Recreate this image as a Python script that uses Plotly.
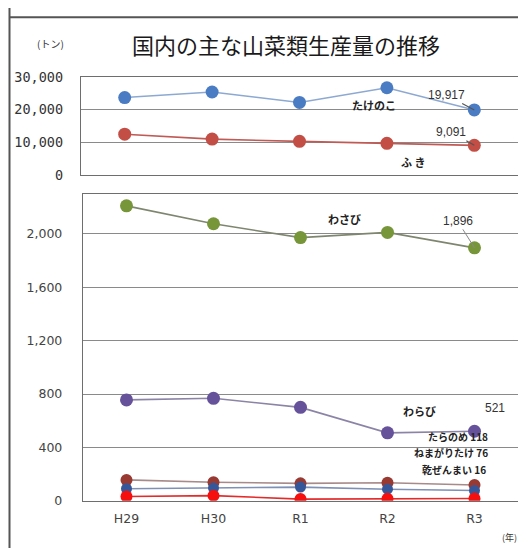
import plotly.graph_objects as go

# Production of major wild vegetables in Japan (tonnes)
years = ["H29", "H30", "R1", "R2", "R3"]
takenoko = [23700, 25400, 22200, 26700, 19917]
fuki = [12500, 11000, 10300, 9700, 9091]
wasabi = [2211, 2077, 1973, 2012, 1896]
warabi = [756, 768, 700, 509, 521]
taranome = [156, 138, 130, 135, 118]
nemagaritake = [90, 95, 102, 86, 76]
zenmai = [32, 38, 12, 14, 16]

top_ticks = [0, 10000, 20000, 30000]
top_tick_text = ["0", "10,000", "20,000", "30,000"]
bottom_ticks = [0, 400, 800, 1200, 1600, 2000]
bottom_tick_text = ["0", "400", "800", "1,200", "1,600", "2,000"]

W, H = 518, 556
JP = "Noto Sans CJK JP"


def px(x):
    return x / W


def py(y):
    return 1 - y / H


fig = go.Figure()


def add_series(xaxis, yaxis, values, marker_color, line_color, size=13):
    fig.add_trace(go.Scatter(
        x=years, y=values, xaxis=xaxis, yaxis=yaxis, mode="lines+markers",
        line=dict(color=line_color, width=1.6),
        marker=dict(color=marker_color, size=size),
        hoverinfo="x+y", showlegend=False,
    ))


# upper panel
add_series("x", "y", takenoko, "#4A7CC4", "#8DA9D2")
add_series("x", "y", fuki, "#C24E45", "#C05A55")
# lower panel
add_series("x2", "y2", wasabi, "#77963A", "#7E8670")
add_series("x2", "y2", warabi, "#65529A", "#8C84A6")
add_series("x2", "y2", taranome, "#983A32", "#A88A8A", 12)
add_series("x2", "y2", nemagaritake, "#35579A", "#7E90B6", 11)
add_series("x2", "y2", zenmai, "#F50F0F", "#E52A2A", 12)

axis_line = dict(showline=True, linecolor="#6e6e6e", linewidth=1.4)
tick_font = dict(family="DejaVu Sans", size=12.5, color="#444")

fig.update_layout(
    width=W, height=H,
    margin=dict(l=0, r=0, t=0, b=0),
    paper_bgcolor="white", plot_bgcolor="white",
    font=dict(family=JP, color="#333"),
    xaxis=dict(domain=[px(81), 1], range=[-0.5, 4.5], type="category",
               showticklabels=False, ticks="", showgrid=False,
               mirror=True, anchor="y", **axis_line),
    yaxis=dict(domain=[py(172), py(71)], range=[0, 30000],
               tickvals=top_ticks, ticktext=top_tick_text,
               tickfont=dict(family="DejaVu Sans Mono", size=13.5, color="#333"),
               ticklabelstandoff=14,
               showgrid=True, gridcolor="#8a8a8a", gridwidth=1,
               zeroline=False, anchor="x", **axis_line),
    xaxis2=dict(domain=[px(83), 1], range=[-0.5, 4.5], type="category",
                tickfont=tick_font,
                ticks="", showgrid=False, mirror=True, anchor="y2",
                ticklabelstandoff=6, **axis_line),
    yaxis2=dict(domain=[py(507.3), py(191.5)], range=[0, 2300],
                tickvals=bottom_ticks, ticktext=bottom_tick_text,
                tickfont=tick_font,
                ticklabelstandoff=17,
                showgrid=True, gridcolor="#8a8a8a", gridwidth=1,
                zeroline=False, anchor="x2", **axis_line),
)

# outer frame
fig.add_shape(type="line", xref="paper", yref="paper",
              x0=px(9.5), x1=px(9.5), y0=0, y1=1,
              line=dict(color="#555", width=2))
fig.add_shape(type="line", xref="paper", yref="paper",
              x0=px(9.5), x1=1, y0=py(9.5), y1=py(9.5),
              line=dict(color="#555", width=2))

ann = []
centered = dict(xref="paper", yref="paper", xanchor="center", yanchor="middle",
                showarrow=False)
ann.append(dict(x=px(286), y=py(37), text="国内の主な山菜類生産量の推移",
                font=dict(family=JP, size=22, color="#1a1a1a"), **centered))
ann.append(dict(x=px(50), y=py(37), text="(トン)",
                font=dict(family=JP, size=10, color="#333"), **centered))
ann.append(dict(x=px(509), y=py(545), text="(年)",
                font=dict(family=JP, size=9, color="#333"), **centered))

bold = dict(family=JP, size=11, color="#222")
num = dict(family="Liberation Sans", size=12, color="#333")

# series name labels
ann.append(dict(xref="x", yref="y", x=2.85, y=21300, text="<b>たけのこ</b>",
                showarrow=False, font=bold))
ann.append(dict(xref="x", yref="y", x=3.3, y=4100, text="<b>ふ き</b>",
                showarrow=False, font=bold))
ann.append(dict(xref="x2", yref="y2", x=2.5, y=2110, text="<b>わさび</b>",
                showarrow=False, font=bold))
ann.append(dict(xref="x2", yref="y2", x=3.37, y=672, text="<b>わらび</b>",
                showarrow=False, font=bold))

# value labels with leader lines
ann.append(dict(xref="x", yref="y", x=4, y=takenoko[-1], text=f"{takenoko[-1]:,}",
                showarrow=True, arrowhead=0, arrowwidth=1.2, arrowcolor="#555",
                ax=-28, ay=-15, font=num))
ann.append(dict(xref="x", yref="y", x=4, y=fuki[-1], text=f"{fuki[-1]:,}",
                showarrow=True, arrowhead=0, arrowwidth=1.2, arrowcolor="#555",
                ax=-23, ay=-13, font=num))
ann.append(dict(xref="x2", yref="y2", x=4, y=wasabi[-1], text=f"{wasabi[-1]:,}",
                showarrow=True, arrowhead=0, arrowwidth=1, arrowcolor="#888",
                ax=-17, ay=-27, font=num))
ann.append(dict(xref="x2", yref="y2", x=4.23, y=694, text=f"{warabi[-1]:,}",
                showarrow=False, font=num))

# stacked labels for the three smallest series
small_bold = dict(family=JP, size=10, color="#222")
ann.append(dict(xref="x2", yref="y2", x=4.18, y=478, xanchor="right", yanchor="middle",
                text=f"<b>たらのめ {taranome[-1]}</b>", showarrow=False, font=small_bold))
ann.append(dict(xref="x2", yref="y2", x=4.18, y=358, xanchor="right", yanchor="middle",
                text=f"<b>ねまがりたけ {nemagaritake[-1]}</b>", showarrow=False, font=small_bold))
ann.append(dict(xref="x2", yref="y2", x=4.15, y=236, xanchor="right", yanchor="middle",
                text=f"<b>乾ぜんまい {zenmai[-1]}</b>", showarrow=False, font=small_bold))

fig.update_layout(annotations=ann)
fig.write_html("out.html")
